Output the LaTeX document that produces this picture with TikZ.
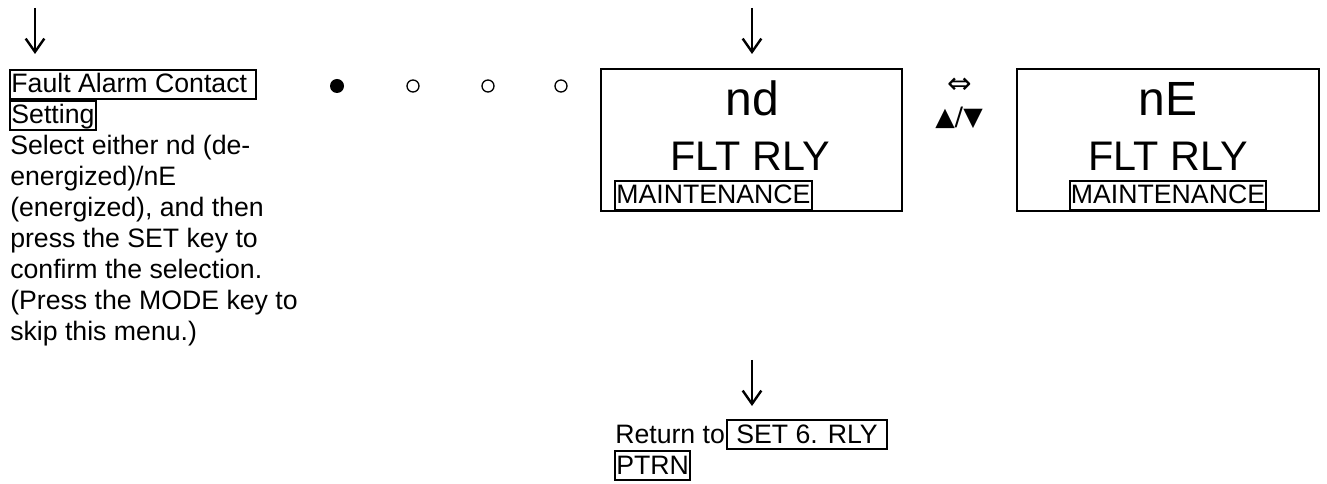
\documentclass[tikz,border=0pt]{standalone}
\usepackage{fontspec}
\setmainfont{Liberation Sans}
\newfontfamily\symfont{DejaVu Sans}
\usetikzlibrary{arrows.meta}
\tikzset{
  body/.style={font=\fontsize{20}{23.25}\selectfont, inner sep=0pt, anchor=base west},
  boxed/.style={body, draw, line width=1.6pt, inner xsep=1pt, inner ysep=0pt, text height=17pt, text depth=4.5pt},
  screen/.style={draw, line width=1.6pt, minimum width=226pt, minimum height=107pt, inner sep=0pt},
  bigtxt/.style={font=\fontsize{36}{40}\selectfont, inner sep=0pt, anchor=base},
  midtxt/.style={font=\fontsize{31}{36}\selectfont, inner sep=0pt, anchor=base},
  downarr/.style={line width=1.8pt, -{Straight Barb[length=10pt,width=14pt,line width=1.8pt]}},
  dotfull/.style={fill=black, circle, inner sep=0pt, minimum size=10.5pt},
  dotopen/.style={draw=black, line width=1pt, circle, inner sep=0pt, minimum size=9pt},
}
\begin{document}
\begin{tikzpicture}[x=0.75pt,y=-0.75pt]
\useasboundingbox (0,0) rectangle (1327,484);
% left column
\coordinate (a1s) at (35,8);
\coordinate (a1e) at (35,54);
\draw[downarr] (a1s) -- (a1e);
\node[boxed] (l1) at (9,93) {Fault Alarm Contact\kern0.3em};
\node[boxed] (l2) at (9,124) {Setting};
\foreach \i/\t in {1/{Select either nd (de-},2/{energized)/nE},3/{(energized), and then},4/{press the SET key to},5/{confirm the selection.},6/{(Press the MODE key to},7/{skip this menu.)}}{
  \node[body] (t\i) at (10,{124+31*\i}) {\t};
}
% dots
\node[dotfull] (d1) at (337,86) {};
\node[dotopen] (d2) at (413,86) {};
\node[dotopen] (d3) at (488,86) {};
\node[dotopen] (d4) at (561,86) {};
% nd screen
\coordinate (a2s) at (752,8);
\coordinate (a2e) at (752,54);
\draw[downarr] (a2s) -- (a2e);
\node[screen] (nd) at (751.5,140) {};
\node[bigtxt] (ndt) at (752,116) {nd};
\node[midtxt] (ndf) at (750,171) {FLT RLY};
\node[boxed] (ndm) at (614,204) {MAINTENANCE};
% toggle
\node[font=\symfont\fontsize{22}{24}\selectfont, inner sep=0pt] (lr) at (960,86) {⇔};
\node[font=\symfont\fontsize{19}{22}\selectfont, inner sep=0pt] (ud) at (959,118) {▲/▼};
% nE screen
\node[screen] (ne) at (1168,140) {};
\node[bigtxt] (net) at (1168,116) {nE};
\node[midtxt] (nef) at (1168,171) {FLT RLY};
\node[boxed, anchor=base] (nem) at (1168,204) {MAINTENANCE};
% bottom
\coordinate (a3s) at (752,360);
\coordinate (a3e) at (752,406);
\draw[downarr] (a3s) -- (a3e);
\node[body] (ret) at (615,443) {Return to};
\node[boxed] (set) at (726,443) {\kern0.3em SET 6. RLY\kern0.3em};
\node[boxed] (ptrn) at (614,474) {PTRN};
\end{tikzpicture}
\end{document}
